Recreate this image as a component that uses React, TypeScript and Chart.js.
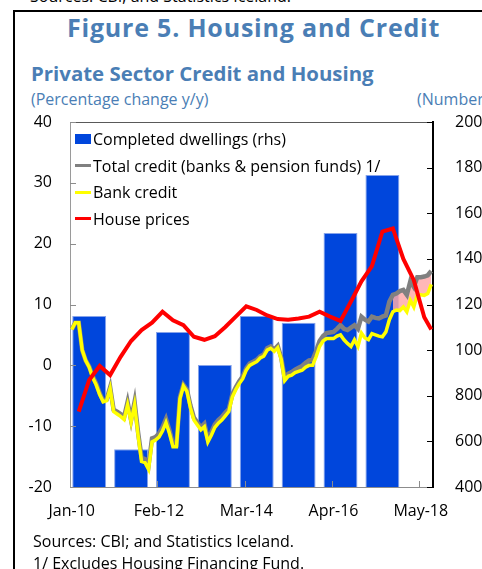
import React, { useEffect, useRef } from "react";
import { Chart, registerables } from "chart.js";

Chart.register(...registerables);

const FONT = "'Open Sans', sans-serif";
const BLUE_TEXT = "#4A7EB5";

// x axis: month index 0 = Jan-10 ... 103 = Aug-18
const xTickMonths = [0, 25, 50, 75, 100];
const xTickLabels = ["Jan-10", "Feb-12", "Mar-14", "Apr-16", "May-18"];

const leftTicks = [-20, -10, 0, 10, 20, 30, 40];
const rightTicks = [400, 600, 800, 1000, 1200, 1400, 1600, 1800, 2000];

// Completed dwellings (rhs), annual 2010-2017, plotted at mid-year month
const dwellingYears = [2010, 2011, 2012, 2013, 2014, 2015, 2016, 2017];
const dwellingMonths = [5, 17, 29, 41, 53, 65, 77, 89];
const dwellings = [1150, 565, 1080, 935, 1150, 1120, 1513, 1768];

// Bank credit, monthly, % y/y
const bankCredit = [
  5.9, 7.0, 7.0, 2.5, 0.8, -0.3, -2.0, -3.2, -4.8, -6.0, -5.8, -3.8,
  -7.6, -8.0, -8.4, -8.9, -6.5, -9.3, -6.5, -11.5, -15.8, -16.0, -17.1, -12.6,
  -12.3, -11.8, -10.8, -9.4, -11.2, -13.4, -13.4, -5.5, -3.4, -4.3, -7.0, -9.0,
  -9.8, -10.6, -10.1, -12.6, -11.5, -10.2, -9.5, -9.0, -8.3, -7.6, -5.2, -4.0,
  -3.0, -2.2, -0.8, 0.0, 0.3, 0.6, 1.2, 1.5, 2.5, 2.8, 2.3, 2.9,
  1.0, -2.5, -1.8, -1.6, -1.2, -1.0, -0.8, -0.3, 0.0, 0.0, 1.4, 3.1,
  4.0, 4.4, 4.4, 4.4, 4.8, 5.0, 4.2, 3.6, 3.1, 4.2, 3.1, 5.3,
  4.5, 4.2, 5.2, 5.0, 4.8, 4.7, 5.5, 7.5, 8.8, 9.1, 9.0, 9.6,
  8.8, 10.7, 9.6, 11.6, 11.6, 11.5, 11.8, 13.3,
];

// Total credit (banks & pension funds), monthly, % y/y
const totalCredit = [
  5.9, 7.0, 7.0, 2.5, 0.8, -0.2, -1.8, -3.0, -4.6, -5.8, -5.6, -3.6,
  -7.3, -7.6, -8.0, -8.5, -6.0, -9.0, -6.0, -11.0, -15.2, -15.4, -16.5, -12.0,
  -11.8, -11.2, -10.2, -8.8, -10.7, -12.9, -13.0, -5.2, -3.2, -4.0, -6.6, -8.6,
  -9.4, -10.2, -9.6, -12.1, -11.0, -9.7, -9.0, -8.5, -7.8, -7.2, -4.8, -3.6,
  -2.6, -1.8, -0.5, 0.3, 0.6, 0.9, 1.5, 1.8, 2.8, 3.1, 2.6, 3.2,
  1.3, -2.1, -1.4, -1.1, -0.7, -0.4, -0.1, 0.4, 0.8, 0.9, 2.3, 4.0,
  4.8, 5.3, 5.4, 5.5, 6.0, 6.6, 6.0, 5.8, 6.2, 6.6, 6.0, 8.0,
  7.5, 7.2, 8.0, 7.8, 7.7, 8.0, 8.2, 10.5, 11.6, 11.8, 12.2, 12.4,
  11.6, 13.8, 12.9, 14.5, 14.5, 14.6, 14.8, 15.5,
];

// House prices, quarterly readings, % y/y
const houseMonths = [2, 5, 8, 11, 14, 17, 20, 23, 26, 29, 32, 35, 38, 41, 44, 47, 50, 53, 56, 59, 62, 65, 68, 71, 74, 77, 80, 83, 86, 89, 92, 95, 98, 101, 103];
const housePrices = [-7.6, -2.4, -0.1, -1.6, 1.4, 4.0, 5.8, 7.0, 8.8, 7.4, 6.6, 4.7, 4.2, 4.8, 6.3, 8.0, 9.7, 9.1, 8.2, 7.6, 7.5, 7.7, 8.0, 8.8, 8.0, 7.3, 10.5, 13.8, 16.3, 22.0, 22.5, 17.5, 14.0, 7.9, 5.9];

// month from which the gap between total and bank credit is shaded
const shadeStart = 92;

const legendItems = [
  { label: "Completed dwellings (rhs)", color: "#0046DC", box: true },
  { label: "Total credit (banks & pension funds) 1/", color: "#808080", box: false },
  { label: "Bank credit", color: "#FFFF00", box: false },
  { label: "House prices", color: "#FF0000", box: false },
];

const axisMarks = {
  id: "axisMarks",
  afterDatasetsDraw(chart: any) {
    const { ctx, chartArea, scales } = chart;
    const { left, right, top, bottom } = chartArea;
    const line = (x1: number, y1: number, x2: number, y2: number) => {
      ctx.beginPath();
      ctx.moveTo(x1, y1);
      ctx.lineTo(x2, y2);
      ctx.stroke();
    };
    ctx.save();
    ctx.lineWidth = 1;
    ctx.strokeStyle = "#595959";
    line(left, top + 0.5, right, top + 0.5);
    ctx.strokeStyle = "#8c8c8c";
    leftTicks.forEach((v) => {
      const y = Math.round(scales.y.getPixelForValue(v)) + 0.5;
      line(left, y, left + 6, y);
    });
    ctx.strokeStyle = "#000";
    rightTicks.forEach((v) => {
      const y = Math.round(scales.y2.getPixelForValue(v)) + 0.5;
      line(right - 6, y, right, y);
    });
    ctx.strokeStyle = "#8c8c8c";
    xTickMonths.slice(1).forEach((m) => {
      const x = Math.round(scales.x.getPixelForValue(m - 0.5)) + 0.5;
      line(x, bottom, x, bottom - 6);
    });
    ctx.restore();
  },
};

export default function App() {
  const ref = useRef<HTMLCanvasElement | null>(null);

  useEffect(() => {
    if (!ref.current) return;
    const monthly = (arr: number[]) => arr.map((y, i) => ({ x: i, y }));
    const shade = (arr: number[]) =>
      arr.map((y, i) => ({ x: i, y })).filter((p) => p.x >= shadeStart);
    const tickFont = { family: FONT, size: 16 };

    const chart = new Chart(ref.current, {
      type: "line",
      data: {
        datasets: [
          {
            type: "bar",
            label: "Completed dwellings (rhs)",
            data: dwellings.map((y, i) => ({ x: dwellingMonths[i], y })),
            yAxisID: "y2",
            backgroundColor: "#0046DC",
            borderColor: "#86a3ea",
            borderWidth: 1,
            categoryPercentage: 0.9,
            barPercentage: 0.9,
            order: 5,
          } as any,
          {
            label: "shade base",
            data: shade(bankCredit),
            yAxisID: "y",
            borderWidth: 0,
            pointRadius: 0,
            fill: false,
            order: 4,
          },
          {
            label: "shade top",
            data: shade(totalCredit),
            yAxisID: "y",
            borderWidth: 0,
            pointRadius: 0,
            backgroundColor: "rgba(255,170,170,0.85)",
            fill: "-1",
            order: 3,
          },
          {
            label: "Total credit (banks & pension funds) 1/",
            data: monthly(totalCredit),
            yAxisID: "y",
            borderColor: "#808080",
            borderWidth: 4.5,
            pointRadius: 0,
            fill: false,
            order: 2,
          },
          {
            label: "Bank credit",
            data: monthly(bankCredit),
            yAxisID: "y",
            borderColor: "#FFFF00",
            borderWidth: 3.5,
            pointRadius: 0,
            fill: false,
            order: 1,
          },
          {
            label: "House prices",
            data: housePrices.map((y, i) => ({ x: houseMonths[i], y })),
            yAxisID: "y",
            borderColor: "#FF0000",
            borderWidth: 4,
            pointRadius: 0,
            fill: false,
            order: 0,
          },
        ],
      },
      options: {
        responsive: false,
        animation: false,
        layout: { padding: { left: 8, top: 122, right: 0, bottom: 42 } },
        plugins: { legend: { display: false }, tooltip: { enabled: false } },
        scales: {
          x: {
            type: "linear",
            position: "bottom",
            offset: false,
            min: -0.5,
            max: 103.5,
            afterBuildTicks: (s: any) => {
              s.ticks = xTickMonths.map((v) => ({ value: v }));
            },
            afterFit: (s: any) => {
              s.height = 40;
              s.paddingLeft = 0;
              s.paddingRight = 0;
            },
            ticks: {
              autoSkip: false,
              maxRotation: 0,
              padding: 15,
              color: "#000",
              font: tickFont,
              callback: (_v: any, i: number) => xTickLabels[i],
            },
            grid: { display: false, drawTicks: false, offset: false },
            border: { display: true, color: "#8c8c8c", width: 1 },
          },
          y: {
            position: "left",
            min: -20,
            max: 40,
            afterBuildTicks: (s: any) => {
              s.ticks = leftTicks.map((v) => ({ value: v }));
            },
            afterFit: (s: any) => {
              s.width = 62;
            },
            ticks: { padding: 18, color: "#000", font: tickFont, callback: (v: any) => String(v) },
            grid: { display: false, drawTicks: false },
            border: { display: true, color: "#9a9a9a", width: 1 },
          },
          y2: {
            position: "right",
            min: 400,
            max: 2000,
            afterBuildTicks: (s: any) => {
              s.ticks = rightTicks.map((v) => ({ value: v }));
            },
            afterFit: (s: any) => {
              s.width = 107;
            },
            ticks: { padding: 22, color: "#000", font: tickFont, callback: (v: any) => String(v) },
            grid: { display: false, drawTicks: false },
            border: { display: true, color: "#000", width: 2 },
          },
        },
      },
      plugins: [axisMarks],
    } as any);
    return () => chart.destroy();
  }, []);

  const abs = (s: React.CSSProperties): React.CSSProperties => ({
    position: "absolute",
    whiteSpace: "nowrap",
    lineHeight: 1,
    ...s,
  });

  return (
    <div
      style={{
        position: "fixed",
        left: 0,
        top: 0,
        width: 482,
        height: 569,
        overflow: "hidden",
        background: "#fff",
        fontFamily: FONT,
      }}
    >
      <div style={abs({ left: 30, top: -12, fontSize: 16, color: "#000" })}>
        Sources: CBI; and Statistics Iceland.
      </div>
      <div style={abs({ left: 13, top: 10, width: 469, height: 2, background: "#000" })} />
      <div style={abs({ left: 13, top: 10, width: 2, height: 559, background: "#000" })} />
      <div style={abs({ left: 67, top: 15, fontSize: 25, fontWeight: 700, letterSpacing: 0.8, color: BLUE_TEXT })}>
        Figure 5. Housing and Credit
      </div>
      <div style={abs({ left: 31, top: 63, fontSize: 20.4, fontWeight: 700, color: BLUE_TEXT })}>
        Private Sector Credit and Housing
      </div>
      <div style={abs({ left: 31, top: 91, fontSize: 16, color: BLUE_TEXT })}>
        (Percentage change y/y)
      </div>
      <div style={abs({ left: 417, top: 91, fontSize: 16, color: BLUE_TEXT })}>(Number)</div>
      <div style={abs({ left: 0, top: 0, width: 540, height: 569 })}>
        <canvas ref={ref} width={540} height={569} style={{ display: "block" }} />
      </div>
      {legendItems.map((it, i) => (
        <div key={it.label} style={abs({ left: 75, top: 130 + i * 26.5, height: 18, display: "flex", alignItems: "center" })}>
          <span
            style={{
              display: "inline-block",
              width: 16,
              height: it.box ? 10 : 3,
              background: it.color,
              marginRight: 2,
            }}
          />
          <span style={{ fontSize: 16, color: "#000" }}>{it.label}</span>
        </div>
      ))}
      <div style={abs({ left: 33, top: 533, fontSize: 16, color: "#000" })}>
        Sources: CBI; and Statistics Iceland.
      </div>
      <div style={abs({ left: 33, top: 555, fontSize: 16, color: "#000" })}>
        1/ Excludes Housing Financing Fund.
      </div>
    </div>
  );
}
